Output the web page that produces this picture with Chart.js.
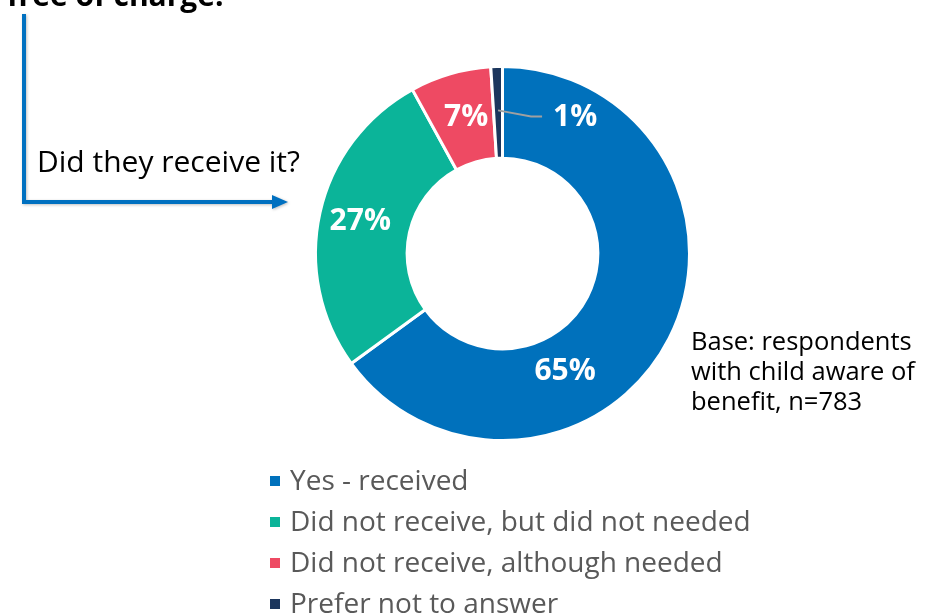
<!DOCTYPE html>
<html>
<head>
<meta charset="utf-8">
<script src="https://cdn.jsdelivr.net/npm/chart.js@4.4.1/dist/chart.umd.min.js"></script>
<style>
    body { margin: 0; background: #fff; }
    #wrap { position: relative; width: 929px; height: 615px; }
</style>
</head>
<body>
<div id="wrap"><canvas id="donut"></canvas></div>
<script>
const categories = ['Yes - received', 'Did not receive, but did not needed', 'Did not receive, although needed', 'Prefer not to answer'];
const shares = [65, 27, 7, 1];
const shareLabels = ['65%', '27%', '7%', '1%'];
const sliceColors = ['#0071BC', '#0BB499', '#EE4A63', '#1B365D'];
const baseNote = ['Base: respondents', 'with child aware of', 'benefit, n=783'];

const FONT = '"Open Sans", "Noto Sans", sans-serif';

// where each % label sits inside its slice (fraction of angle / of ring width)
const labelAngleFrac = [0.65, 0.5, 0.55, 0.5];
const labelRadiusFrac = [0.42, 0.55, 0.5, 0.5];

const extrasPlugin = {
    id: 'extras',
    afterDraw(chart) {
        const ctx = chart.ctx;
        const arcs = chart.getDatasetMeta(0).data;
        ctx.save();

        // slice labels
        ctx.font = 'bold 30px ' + FONT;
        ctx.fillStyle = '#fff';
        ctx.textBaseline = 'middle';
        arcs.forEach((arc, i) => {
            const p = arc.getProps(['x', 'y', 'startAngle', 'endAngle', 'innerRadius', 'outerRadius'], true);
            const a = p.startAngle + (p.endAngle - p.startAngle) * labelAngleFrac[i];
            const r = p.innerRadius + (p.outerRadius - p.innerRadius) * labelRadiusFrac[i];
            const lx = p.x + Math.cos(a) * r;
            const ly = p.y + Math.sin(a) * r;
            if (i === arcs.length - 1) {
                // small slice: leader line out to the right
                ctx.strokeStyle = '#a0a0a0';
                ctx.lineWidth = 2;
                ctx.beginPath();
                ctx.moveTo(lx, ly - 2);
                ctx.lineTo(lx + 33, ly + 4);
                ctx.lineTo(lx + 44, ly + 4);
                ctx.stroke();
                ctx.textAlign = 'left';
                ctx.fillText(shareLabels[i], lx + 55, ly + 5);
            } else {
                ctx.textAlign = 'center';
                ctx.fillText(shareLabels[i], lx, ly);
            }
        });

        // cut-off heading
        ctx.fillStyle = '#000';
        ctx.textAlign = 'left';
        ctx.textBaseline = 'alphabetic';
        ctx.font = 'bold 30px ' + FONT;
        ctx.fillText('free of charge.', 7, 6);

        // bracket arrow
        ctx.shadowColor = 'rgba(0,0,0,0.25)';
        ctx.shadowBlur = 3;
        ctx.shadowOffsetX = 1;
        ctx.shadowOffsetY = 1;
        ctx.strokeStyle = '#0070C0';
        ctx.fillStyle = '#0070C0';
        ctx.lineWidth = 4;
        ctx.beginPath();
        ctx.moveTo(24, 14);
        ctx.lineTo(24, 202);
        ctx.lineTo(274, 202);
        ctx.stroke();
        ctx.beginPath();
        ctx.moveTo(272, 195);
        ctx.lineTo(288, 202);
        ctx.lineTo(272, 209);
        ctx.closePath();
        ctx.fill();
        ctx.shadowColor = 'transparent';

        ctx.fillStyle = '#000';
        ctx.font = '30px ' + FONT;
        ctx.fillText('Did they receive it?', 37, 172);

        // base note
        ctx.font = '25.5px ' + FONT;
        baseNote.forEach((line, i) => ctx.fillText(line, 691, 350 + i * 30));

        // legend
        ctx.font = '28px ' + FONT;
        ctx.textBaseline = 'middle';
        chart.data.labels.forEach((lab, i) => {
            const y = 481 + i * 41;
            ctx.fillStyle = chart.data.datasets[0].backgroundColor[i];
            ctx.fillRect(270, y - 5, 10, 10);
            ctx.fillStyle = '#595959';
            ctx.fillText(lab, 290, y + 1);
        });

        ctx.restore();
    }
};

new Chart(document.getElementById('donut'), {
    type: 'doughnut',
    data: {
        labels: categories,
        datasets: [{
            data: shares,
            backgroundColor: sliceColors,
            borderColor: '#fff',
            borderWidth: 3
        }]
    },
    options: {
        responsive: true,
        maintainAspectRatio: false,
        animation: false,
        cutout: '51%',
        layout: {
            padding: { left: 314, right: 238, top: 64, bottom: 172 }
        },
        plugins: {
            legend: { display: false },
            tooltip: { enabled: false }
        }
    },
    plugins: [extrasPlugin]
});
</script>
</body>
</html>
